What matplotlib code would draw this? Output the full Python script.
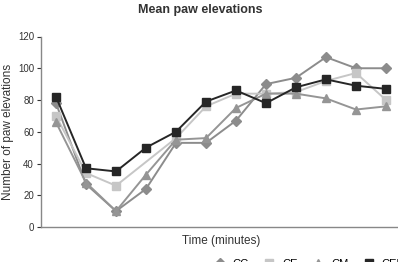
import matplotlib
matplotlib.use("Agg")
import matplotlib.pyplot as plt

# data (12 time points)
time_points = list(range(12))
cc = [78, 27, 10, 24, 53, 53, 67, 90, 94, 107, 100, 100]
ce = [70, 34, 26, 41, 56, 76, 84, 84, 85, 92, 97, 80]
cm = [66, 28, 10, 33, 55, 56, 75, 84, 84, 81, 74, 76]
cem = [82, 37, 35, 50, 60, 79, 86, 78, 88, 93, 89, 87]
series_names = ["CC", "CE", "CM", "CEM"]
y_ticks = [0, 20, 40, 60, 80, 100, 120]

plt.rcParams["font.family"] = ["Liberation Sans", "DejaVu Sans"]

fig = plt.figure(figsize=(3.98, 2.62), dpi=100)
ax = fig.add_axes([41 / 398, 1 - 227 / 262, 360 / 398, (227 - 36.5) / 262])

ax.plot(time_points, cc, color="#8c8c8c", lw=1.4, marker="D", ms=5.5, label=series_names[0])
ax.plot(time_points, ce, color="#c6c6c6", lw=1.4, marker="s", ms=5.5,
        markevery=[i for i in time_points if i != 3], label=series_names[1])
ax.plot(time_points, cm, color="#959595", lw=1.4, marker="^", ms=5.5, label=series_names[2])
ax.plot(time_points, cem, color="#262626", lw=1.4, marker="s", ms=5.5, label=series_names[3])

ax.set_xlim(-0.5, 11.5)
ax.set_ylim(0, 120)
ax.set_yticks(y_ticks)
ax.set_xticks([])
ax.tick_params(axis="y", labelsize=7, colors="#333333", length=3, width=0.8, pad=2)
for s in ["top", "right"]:
    ax.spines[s].set_visible(False)
for s in ["left", "bottom"]:
    ax.spines[s].set_color("#888888")
    ax.spines[s].set_linewidth(1.0)

ax.set_ylabel("Number of paw elevations", fontsize=8.5, color="#333333")
ax.yaxis.set_label_coords(-(41 - 14) / 360, 0.5)
ax.set_xlabel("Time (minutes)", fontsize=8.5, color="#333333", labelpad=6)
fig.text(200 / 398, 1 - 10 / 262, "Mean paw elevations", ha="center", va="center",
         fontsize=9, fontweight="bold", color="#333333")

# legend sits mostly below the bottom edge, as in the reference crop
fig.legend(loc="center", bbox_to_anchor=(308 / 398, -2 / 262), ncol=4, frameon=False,
           fontsize=8, handlelength=1.8, columnspacing=0.9, handletextpad=0.3)

fig.savefig("out.png", dpi=100)
